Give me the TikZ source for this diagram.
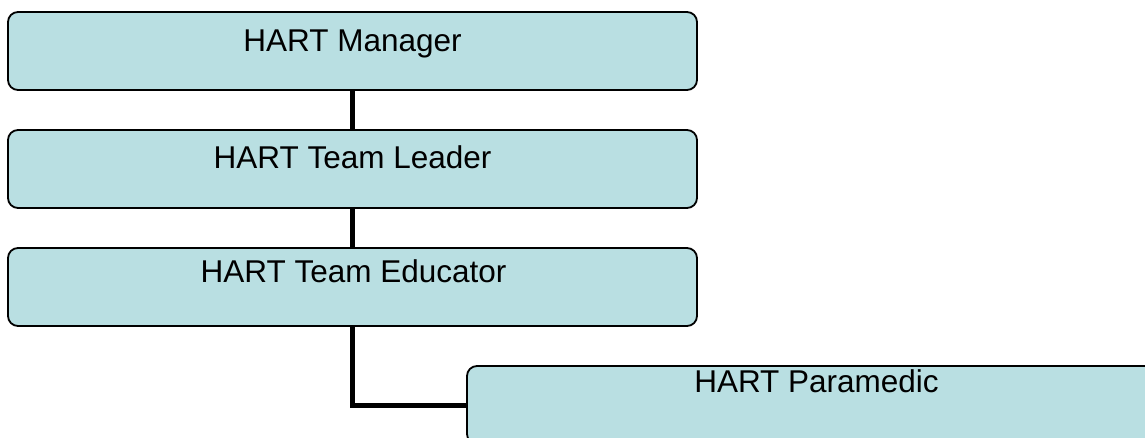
\documentclass[tikz,border=0pt]{standalone}
\usepackage{fontspec}
\setmainfont{Liberation Sans}
\definecolor{boxfill}{RGB}{185,223,226}
\begin{document}
\begin{tikzpicture}[x=1pt,y=-1pt,
  role/.style={draw=black, line width=1.8pt, fill=boxfill, rounded corners=10pt,
    inner sep=0pt, minimum height=78pt},
  rolelabel/.style={anchor=base, inner sep=0pt, font=\fontsize{31.5}{36}\selectfont},
  link/.style={draw=black, line width=5pt}]
\useasboundingbox (0,0) rectangle (1145,438);
\clip (0,0) rectangle (1145,438);

% role boxes
\node[role, minimum width=689pt] (m) at (352.5,51) {};
\node[role, minimum width=689pt] (l) at (352.5,169) {};
\node[role, minimum width=689pt] (e) at (352.5,287) {};
\node[role, minimum width=700pt] (p) at (817,405) {};

% reporting lines
\draw[link] (m.south) -- (l.north);
\draw[link] (l.south) -- (e.north);
\draw[link] (e.south) |- (p.west);

% titles
\node[rolelabel] (mt) at (352.5,52) {HART Manager};
\node[rolelabel] (lt) at (352.5,169) {HART Team Leader};
\node[rolelabel] (et) at (353.5,283) {HART Team Educator};
\node[rolelabel] (pt) at (816.5,392) {HART Paramedic};
\end{tikzpicture}
\end{document}
